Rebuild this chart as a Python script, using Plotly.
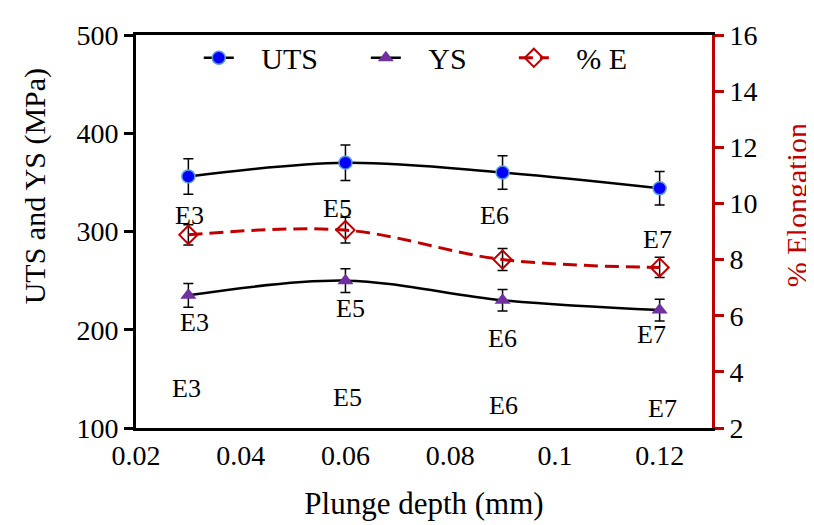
import plotly.graph_objects as go

# ---- data ----
depth = [0.03, 0.06, 0.09, 0.12]
uts = [356, 370, 360, 344]
uts_err = [18, 18, 17, 17]
ys = [235, 250, 230, 220]
ys_err = [12, 12, 11, 11]
elong = [8.88, 9.05, 8.0, 7.72]
elong_err = [0.36, 0.46, 0.39, 0.36]

labels = ["E3", "E5", "E6", "E7"]
label_upper_x = [0.0303, 0.0584, 0.0884, 0.1195]
label_upper_y = [316.4, 323.3, 316.4, 291.6]
label_ys_x = [0.0311, 0.0609, 0.0899, 0.1185]
label_ys_y = [207.2, 222.1, 191.3, 195.3]
label_low_x = [0.0297, 0.0603, 0.0901, 0.1206]
label_low_y = [139.7, 130.8, 122.8, 119.9]

x_tickvals = [0.02, 0.04, 0.06, 0.08, 0.10, 0.12]
x_ticktext = ["0.02", "0.04", "0.06", "0.08", "0.1", "0.12"]

FONT = "Liberation Serif"
RED = "#C00000"
PURPLE = "#7030A0"
BLUE = "#0000FF"
NB = "\u00a0\u00a0\u00a0"

fig = go.Figure()

fig.add_trace(go.Scatter(
    x=depth, y=uts, name=NB + "UTS", mode="lines+markers",
    line=dict(color="black", width=2.5, shape="spline", smoothing=1),
    marker=dict(symbol="circle", size=13, color=BLUE, line=dict(color="#5B9BD5", width=1.5)),
    error_y=dict(type="data", array=uts_err, visible=True, color="black", thickness=1.5, width=5),
    legend="legend",
))
fig.add_trace(go.Scatter(
    x=depth, y=ys, name=NB + "YS", mode="lines+markers",
    line=dict(color="black", width=2.5, shape="spline", smoothing=1),
    marker=dict(symbol="triangle-up", size=14, color=PURPLE, line=dict(color=PURPLE, width=0)),
    error_y=dict(type="data", array=ys_err, visible=True, color="black", thickness=1.5, width=5),
    legend="legend2",
))
fig.add_trace(go.Scatter(
    x=depth, y=elong, name=NB + "% E", mode="lines+markers", yaxis="y2",
    line=dict(color=RED, width=3, dash="14px,7px", shape="spline", smoothing=1),
    marker=dict(symbol="diamond-open", size=14, color=RED, line=dict(color=RED, width=2)),
    error_y=dict(type="data", array=elong_err, visible=True, color="black", thickness=1.5, width=5),
    legend="legend3",
))

annotations = []
for xs, yv in ((label_upper_x, label_upper_y), (label_ys_x, label_ys_y), (label_low_x, label_low_y)):
    for lab, xx, yy in zip(labels, xs, yv):
        annotations.append(dict(x=xx, y=yy, xref="x", yref="y", text=lab, showarrow=False,
                                font=dict(family=FONT, size=26, color="black"),
                                xanchor="center", yanchor="middle"))

annotations.append(dict(x=-0.1753, y=0.615, xref="paper", yref="paper", text="UTS and YS (MPa)",
                        textangle=-90, showarrow=False, font=dict(family=FONT, size=30, color="black"),
                        xanchor="center", yanchor="middle"))
annotations.append(dict(x=1.147, y=0.566, xref="paper", yref="paper", text="% Elongation",
                        textangle=-90, showarrow=False, font=dict(family=FONT, size=30, color=RED),
                        xanchor="center", yanchor="middle"))

leg_common = dict(orientation="h", bgcolor="rgba(0,0,0,0)", borderwidth=0,
                  font=dict(family=FONT, size=30, color="black"),
                  yanchor="middle", xanchor="left", y=0.942)

fig.update_layout(
    width=814, height=525,
    margin=dict(l=128, r=110, t=17, b=105),
    paper_bgcolor="white", plot_bgcolor="white",
    font=dict(family=FONT, size=28, color="black"),
    showlegend=True,
    legend=dict(x=0.109, **leg_common),
    legend2=dict(x=0.399, **leg_common),
    legend3=dict(x=0.656, **leg_common),
    xaxis=dict(range=[0.02, 0.13], tickvals=x_tickvals, ticktext=x_ticktext,
               showline=True, linecolor="black", linewidth=3, mirror=True,
               ticks="", showgrid=False, zeroline=False,
               tickfont=dict(family=FONT, size=28, color="black"),
               title=dict(text="Plunge depth (mm)", font=dict(family=FONT, size=31, color="black"),
                          standoff=23)),
    yaxis=dict(range=[100, 500], dtick=100, showline=True, linecolor="black", linewidth=3,
               ticks="outside", ticklen=9, tickwidth=2.5, tickcolor="black",
               showgrid=False, zeroline=False,
               tickfont=dict(family=FONT, size=28, color="black")),
    yaxis2=dict(range=[2, 16], dtick=2, overlaying="y", side="right", anchor="x",
                showline=True, linecolor=RED, linewidth=3,
                ticks="outside", ticklen=9, tickwidth=2.5, tickcolor=RED,
                showgrid=False, zeroline=False,
                tickfont=dict(family=FONT, size=28, color="black")),
    annotations=annotations,
)

fig.write_html("out.html")
